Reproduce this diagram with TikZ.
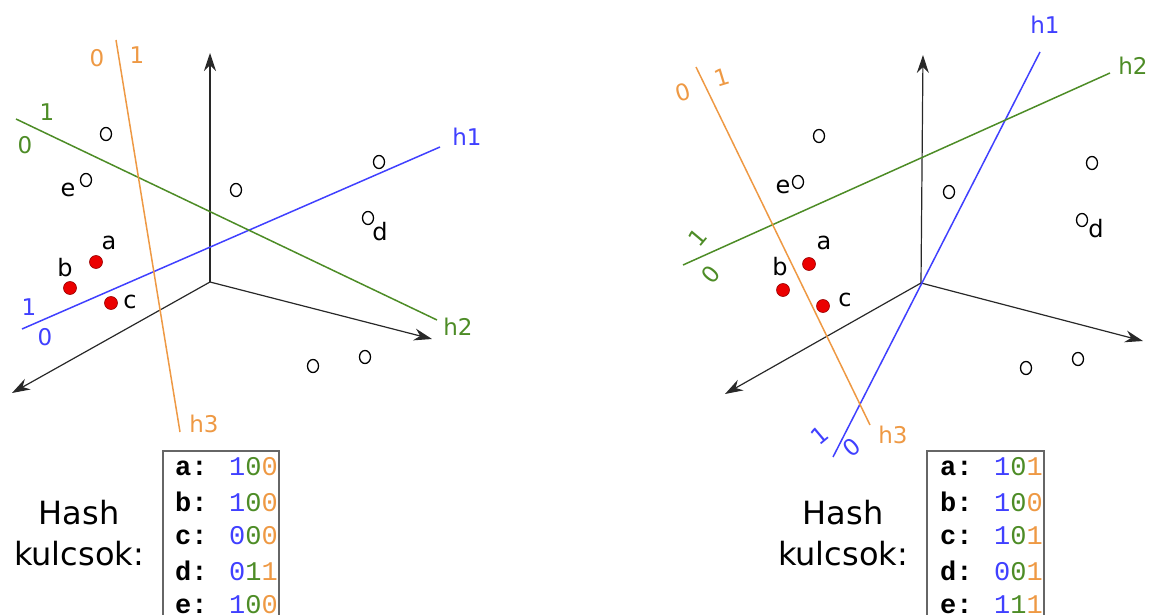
\documentclass[tikz,border=0pt]{standalone}
\usepackage{fontspec}
\setmainfont{DejaVu Sans}
\newfontfamily\keyfont{Liberation Mono}
\usepackage{xcolor}
\usetikzlibrary{arrows.meta, shapes.geometric}
\definecolor{hBlue}{RGB}{64,64,255}
\definecolor{hGreen}{RGB}{77,140,38}
\definecolor{hOrange}{RGB}{238,153,68}
\definecolor{axGray}{RGB}{40,40,40}
\definecolor{ptRed}{RGB}{235,0,0}

\begin{document}
\begin{tikzpicture}[x=1pt, y=-1pt,
    axis/.style={draw=axGray, line width=1.2pt, -{Stealth[length=18pt,width=12pt]}},
    plane/.style={draw=#1, line width=1.5pt},
    side/.style={text=#1, font=\fontsize{23}{26}\selectfont, inner sep=0pt},
    pt/.style={draw=black, ellipse, line width=1.3pt, inner sep=0pt,
               minimum width=11pt, minimum height=13pt},
    hit/.style={circle, draw=red!60!black, fill=ptRed, line width=0.6pt,
                inner sep=0pt, minimum size=13pt},
    lbl/.style={font=\fontsize{24}{27}\selectfont, inner sep=0pt},
    hash/.style={font=\fontsize{32}{41}\selectfont, align=center},
    key/.style={font=\keyfont\fontsize{27}{30}\selectfont, inner sep=0pt, anchor=west},
    keybox/.style={draw=black!60, line width=1.2pt}]
\clip (0,0) rectangle (1163,615);

% LEFT PANEL
\coordinate (oL) at (210,282);
\coordinate (zL) at (210,53);
\coordinate (xL) at (432,339);
\coordinate (yL) at (12,393);
\foreach \t in {zL,xL,yL}
   \draw[axis] (oL) -- (\t);

% hyperplanes
\coordinate (h1La) at (22,329);  \coordinate (h1Lb) at (440,147);
\coordinate (h2La) at (16,119);  \coordinate (h2Lb) at (437,320);
\coordinate (h3La) at (116,40);  \coordinate (h3Lb) at (180,432);
\draw[plane=hBlue]   (h1La) -- (h1Lb);
\draw[plane=hGreen]  (h2La) -- (h2Lb);
\draw[plane=hOrange] (h3La) -- (h3Lb);
\node[side=hBlue]   (n1L) at (467,137) {h1};
\node[side=hGreen]  (n2L) at (458,327) {h2};
\node[side=hOrange] (n3L) at (204,424) {h3};

\node[side=hBlue]   (b1L) at (29,307) {1};
\node[side=hBlue]   (b0L) at (45,337) {0};
\node[side=hGreen]  (g1L) at (47,112) {1};
\node[side=hGreen]  (g0L) at (25,145) {0};
\node[side=hOrange] (o0L) at (97,58)  {0};
\node[side=hOrange] (o1L) at (137,55) {1};

% points
\foreach \x/\y [count=\i] in {106/134,86/180,236/190,379/162,368/218,313/366,365/357}
   \node[pt] (pL\i) at (\x,\y) {};
\node[lbl] (eL) at (68,190)  {e};
\node[lbl] (dL) at (380,232) {d};
\node[hit] (aL) at (96,262)  {};
\node[hit] (bL) at (70,288)  {};
\node[hit] (cL) at (111,303) {};
\node[lbl] (aLt) at (109,243) {a};
\node[lbl] (bLt) at (65,268)  {b};
\node[lbl] (cLt) at (130,302) {c};

% hash keys
\node[hash] (hashL) at (79,533) {Hash\\kulcsok:};
\draw[keybox] (163,451) rectangle (279,640);
\foreach \k/\p/\q/\r [count=\i from 0] in {a/1/0/0,b/1/0/0,c/0/0/0,d/0/1/1,e/1/0/0}
   \node[key] (kL\k) at (175,467+34.5*\i)
      {\textbf{\k:} \textcolor{hBlue}{\p}\textcolor{hGreen}{\q}\textcolor{hOrange}{\r}};

% RIGHT PANEL
\coordinate (oR) at (921,283);
\coordinate (zR) at (923,55);
\coordinate (xR) at (1143,341);
\coordinate (yR) at (725,394);
\foreach \t in {zR,xR,yR}
   \draw[axis] (oR) -- (\t);

% hyperplanes
\coordinate (h1Ra) at (833,457);  \coordinate (h1Rb) at (1040,52);
\coordinate (h2Ra) at (683,265);  \coordinate (h2Rb) at (1110,73);
\coordinate (h3Ra) at (696,67);   \coordinate (h3Rb) at (870,425);
\draw[plane=hBlue]   (h1Ra) -- (h1Rb);
\draw[plane=hGreen]  (h2Ra) -- (h2Rb);
\draw[plane=hOrange] (h3Ra) -- (h3Rb);
\node[side=hBlue]   (n1R) at (1045,25)  {h1};
\node[side=hGreen]  (n2R) at (1133,66)  {h2};
\node[side=hOrange] (n3R) at (893,435)  {h3};

\node[side=hBlue, rotate=40]   (b1R) at (820,435) {1};
\node[side=hBlue, rotate=40]   (b0R) at (852,447) {0};
\node[side=hGreen, rotate=50]  (g1R) at (698,238) {1};
\node[side=hGreen, rotate=50]  (g0R) at (711,275) {0};
\node[side=hOrange, rotate=17] (o0R) at (683,92)  {0};
\node[side=hOrange, rotate=17] (o1R) at (722,77)  {1};

% points
\foreach \x/\y [count=\i] in {819/136,798/182,949/192,1092/163,1082/220,1026/368,1078/359}
   \node[pt] (pR\i) at (\x,\y) {};
\node[lbl] (eR) at (783,187)  {e};
\node[lbl] (dR) at (1096,229) {d};
\node[hit] (aR) at (809,264)  {};
\node[hit] (bR) at (783,290)  {};
\node[hit] (cR) at (823,306)  {};
\node[lbl] (aRt) at (824,243) {a};
\node[lbl] (bRt) at (780,267) {b};
\node[lbl] (cRt) at (845,300) {c};

% hash keys
\node[hash] (hashR) at (843,533) {Hash\\kulcsok:};
\draw[keybox] (927,451) rectangle (1044,640);
\foreach \k/\p/\q/\r [count=\i from 0] in {a/1/0/1,b/1/0/0,c/1/0/1,d/0/0/1,e/1/1/1}
   \node[key] (kR\k) at (940,467+34.5*\i)
      {\textbf{\k:} \textcolor{hBlue}{\p}\textcolor{hGreen}{\q}\textcolor{hOrange}{\r}};

\end{tikzpicture}
\end{document}
